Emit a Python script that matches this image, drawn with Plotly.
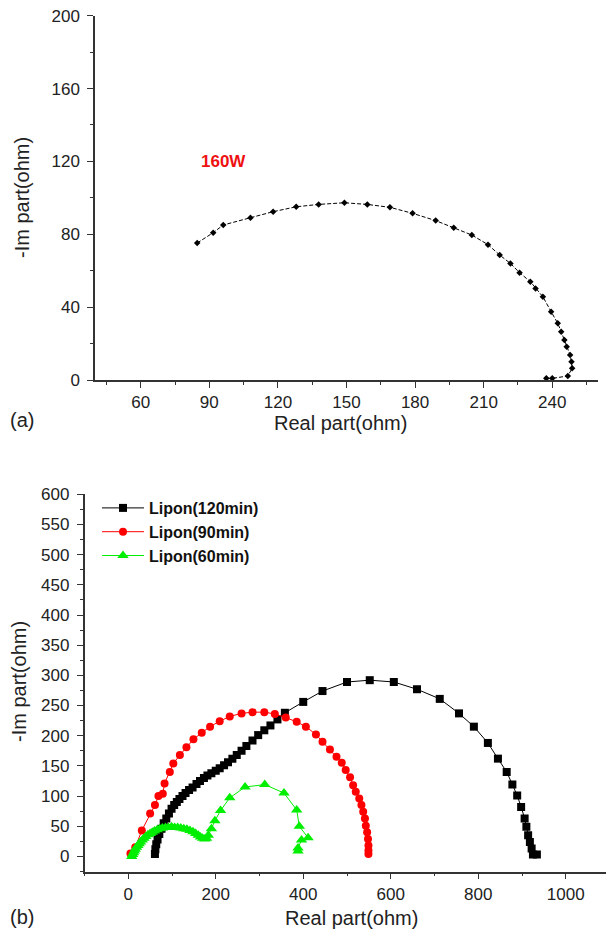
import plotly.graph_objects as go

# ---------- (a) 160W ----------
a_real = [84.7, 91.7, 96.1, 108.0, 117.9, 128.0, 137.8, 149.1, 159.1, 169.0, 178.9, 189.0,
          196.9, 204.8, 211.9, 217.0, 221.7, 225.7, 230.4, 232.7, 235.9, 239.5, 242.4,
          243.9, 245.3, 246.3, 247.8, 248.4, 248.7, 246.8, 240.0, 237.4]
a_im = [75.2, 80.9, 85.1, 89.1, 92.4, 95.1, 96.4, 97.3, 96.4, 94.8, 91.5, 87.5,
        83.6, 79.6, 74.3, 68.6, 64.0, 58.9, 54.0, 50.3, 45.7, 37.5, 31.1,
        26.5, 22.0, 18.3, 13.7, 10.0, 6.4, 2.2, 0.9, 0.9]

# ---------- (b) Lipon ----------
b120_real = [61, 62, 64, 67, 71, 76, 81, 87, 93, 99, 105, 111, 117, 124, 131, 139, 147, 156,
             164, 173, 181, 190, 200, 209, 219, 228, 238, 248, 259, 270, 284, 297, 311, 325,
             341, 358, 400, 444, 500, 552, 607, 660, 712, 756, 790, 822, 845, 865, 878, 889,
             898, 906, 910, 914, 918, 922, 925, 934]
b120_im = [4, 12, 20, 28, 37, 46, 55, 63, 71, 79, 85, 90, 95, 100, 105, 110, 114, 120,
           125, 130, 134, 138, 142, 146, 151, 156, 162, 168, 175, 183, 192, 201, 209, 217,
           227, 238, 256, 274, 289, 292, 289, 277, 261, 237, 215, 188, 162, 140, 119, 101,
           82, 63, 49, 35, 24, 13, 3, 3]

b90_real = [5, 16, 31, 50, 61, 69, 79, 83, 95, 103, 118, 133, 149, 168, 187, 209, 232, 259,
            284, 311, 335, 360, 385, 406, 429, 444, 461, 476, 488, 497, 507, 514, 520, 528,
            533, 537, 541, 543, 546, 548, 549, 549, 549]
b90_im = [5, 15, 43, 71, 85, 100, 104, 121, 140, 154, 168, 181, 194, 205, 215, 224, 232, 237,
          239, 239, 236, 230, 223, 215, 202, 190, 177, 165, 155, 143, 131, 118, 107, 96,
          85, 74, 63, 51, 40, 29, 18, 10, 4]

b60_real = [8, 10, 12, 14, 16, 19, 22, 25, 28, 32, 36, 40, 45, 50, 55, 60, 66, 72, 78, 85,
            92, 99, 106, 113, 120, 127, 134, 141, 148, 154, 160, 165, 170, 175, 179, 183,
            190, 198, 211, 232, 267, 312, 356, 385, 391, 411, 396, 388, 388]
b60_im = [0, 3, 6, 9, 12, 15, 18, 21, 24, 27, 30, 33, 36, 38, 40, 42, 44, 46, 47, 48,
          48, 49, 48, 48, 47, 46, 45, 43, 41, 38, 35, 32, 30, 29, 30, 35,
          46, 59, 76, 97, 115, 119, 105, 77, 50, 31, 27, 14, 9]

series_names = ["Lipon(120min)", "Lipon(90min)", "Lipon(60min)"]
series_colors = ["#000000", "#ff0000", "#00ee00"]
x_title = "Real part(ohm)"
y_title = "-Im part(ohm)"

FONT = "Liberation Sans, Arial, sans-serif"
AX = "#333333"
W, H = 606, 930

fig = go.Figure()

fig.add_trace(go.Scatter(
    x=a_real, y=a_im, mode="lines+markers", xaxis="x", yaxis="y", showlegend=False,
    line=dict(color="black", width=1, dash="4px,2px"),
    marker=dict(symbol="diamond", size=5, color="black"),
))

for xs, ys, name, col, sym, sz in [
    (b120_real, b120_im, series_names[0], series_colors[0], "square", 8),
    (b90_real, b90_im, series_names[1], series_colors[1], "circle", 8),
    (b60_real, b60_im, series_names[2], series_colors[2], "triangle-up", 10),
]:
    fig.add_trace(go.Scatter(
        x=xs, y=ys, mode="lines+markers", name=name, xaxis="x2", yaxis="y2",
        line=dict(color=col, width=1),
        marker=dict(symbol=sym, size=sz, color=col),
    ))


def px_x(p):
    return p / W


def px_y(p):
    return 1 - p / H


common = dict(showline=True, linecolor=AX, linewidth=1.5, ticks="outside", ticklen=6,
              tickwidth=1.2, tickcolor=AX, showgrid=False, zeroline=False, automargin=False,
              tickfont=dict(family=FONT, size=17, color="#222"))

title_font = dict(family=FONT, size=20, color="#222")


def label(x, y, text, angle=0, font=title_font):
    return dict(x=px_x(x), y=px_y(y), xref="paper", yref="paper", text=text,
                textangle=angle, showarrow=False, xanchor="center", yanchor="middle",
                font=font)


fig.update_layout(
    width=W, height=H, margin=dict(l=0, r=0, t=0, b=0),
    paper_bgcolor="white", plot_bgcolor="white",
    xaxis=dict(domain=[px_x(95), px_x(598)], range=[40, 260], anchor="y",
               tick0=60, dtick=30,
               minor=dict(dtick=15, tick0=0, ticks="outside", ticklen=3, tickcolor=AX),
               **common),
    yaxis=dict(domain=[px_y(380), px_y(15.7)], range=[0, 200], anchor="x",
               tick0=0, dtick=40, ticklabelstandoff=4,
               minor=dict(dtick=20, tick0=0, ticks="outside", ticklen=3, tickcolor=AX),
               **common),
    xaxis2=dict(domain=[px_x(84.5), 1.0], range=[-100, 1092], anchor="y2",
                tick0=0, dtick=200,
                minor=dict(dtick=100, tick0=0, ticks="outside", ticklen=3, tickcolor=AX),
                **common),
    yaxis2=dict(domain=[px_y(871.5), px_y(494.3)], range=[-25, 600], anchor="x2",
                tick0=0, dtick=50, ticklabelstandoff=4,
                minor=dict(dtick=25, tick0=0, ticks="outside", ticklen=3, tickcolor=AX),
                **common),
    legend=dict(x=px_x(97), y=px_y(491), xanchor="left", yanchor="top",
                bgcolor="rgba(0,0,0,0)", tracegroupgap=0, itemwidth=42,
                font=dict(family=FONT, size=16, color="#111", weight="bold")),
    annotations=[
        dict(x=96, y=120, xref="x", yref="y", text="<b>160W</b>", showarrow=False,
             font=dict(family=FONT, size=17, color="#ee1111")),
        label(340, 423, x_title),
        label(22, 198, y_title, angle=-90),
        label(351, 918, x_title),
        label(19, 682, y_title, angle=-90),
        label(22, 420, "(a)"),
        label(22, 917, "(b)"),
    ],
)

fig.write_html("out.html", config={"displayModeBar": False},
               post_script="document.body.style.margin='0px';document.body.style.overflow='hidden';")
